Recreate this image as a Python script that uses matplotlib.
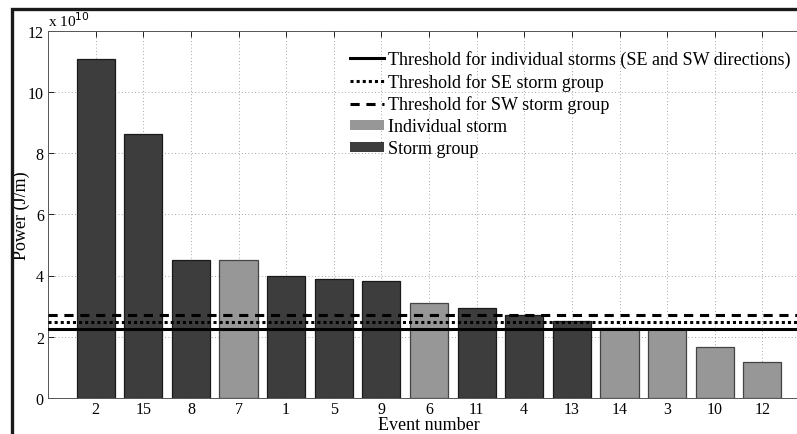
import matplotlib.pyplot as plt
import matplotlib.ticker as mticker
from matplotlib.patches import Rectangle
from matplotlib.lines import Line2D

plt.rcParams['font.family'] = ['Liberation Serif', 'DejaVu Serif']
plt.rcParams['font.size'] = 13

# event order as plotted, power in J/m
events = ['2', '15', '8', '7', '1', '5', '9', '6', '11', '4', '13', '14', '3', '10', '12']
power = [11.07e10, 8.61e10, 4.50e10, 4.50e10, 3.99e10, 3.90e10, 3.81e10, 3.09e10,
         2.94e10, 2.70e10, 2.52e10, 2.27e10, 2.26e10, 1.67e10, 1.17e10]
kind = ['group', 'group', 'group', 'single', 'group', 'group', 'group', 'single',
        'group', 'group', 'group', 'single', 'single', 'single', 'single']

thr_individual = 2.24e10
thr_se_group = 2.49e10
thr_sw_group = 2.70e10

dark = '#3d3d3d'
light = '#979797'

fig = plt.figure(figsize=(7.97, 4.35), dpi=100)
ax = fig.add_axes([48/797, 36/435, 762/797, 367.5/435])

x = list(range(1, len(events) + 1))
cols = [dark if k == 'group' else light for k in kind]
edges = ['#1a1a1a' if k == 'group' else '#444444' for k in kind]
ax.bar(x, power, width=0.8, color=cols, edgecolor=edges, linewidth=0.9, zorder=2)

ax.axhline(thr_individual, color='black', lw=2.2, ls='-', zorder=3)
ax.axhline(thr_se_group, color='black', lw=2.2, ls=(0, (1, 1)), zorder=3)
ax.axhline(thr_sw_group, color='black', lw=2.2, ls=(0, (3, 2.2)), zorder=3)

ax.set_xlim(0, 16)
ax.set_ylim(0, 12e10)
ax.set_xticks(x)
ax.set_xticklabels(events)
ax.set_yticks([i * 2e10 for i in range(7)])
ax.yaxis.set_major_formatter(mticker.FuncFormatter(lambda v, p: '%d' % round(v / 1e10)))
ax.tick_params(direction='in', length=4, width=0.6, top=True, right=True, labelsize=11.5)
ax.tick_params(axis='x', pad=2.5)
ax.tick_params(axis='y', pad=3)
ax.grid(True, ls=(0, (1, 3)), color='#888888', lw=0.6, zorder=0)
for s in ax.spines.values():
    s.set_linewidth(0.7)
    s.set_color('#555555')

ax.text(0, 1.004, r'x 10$^{10}$', transform=ax.transAxes, ha='left', va='bottom',
        fontsize=11)
ax.set_xlabel('Event number', labelpad=-1.2)
ax.set_ylabel('Power (J/m)', labelpad=-1.5)

handles = [
    Line2D([], [], color='black', lw=2.2, ls='-'),
    Line2D([], [], color='black', lw=2.2, ls=(0, (1, 1))),
    Line2D([], [], color='black', lw=2.2, ls=(0, (3, 2.2))),
    Rectangle((0, 0), 1, 1, facecolor=light, edgecolor='none'),
    Rectangle((0, 0), 1, 1, facecolor=dark, edgecolor='none'),
]
labels = ['Threshold for individual storms (SE and SW directions)',
          'Threshold for SE storm group', 'Threshold for SW storm group',
          'Individual storm', 'Storm group']
ax.legend(handles, labels, loc='upper left', bbox_to_anchor=(350/797, 1 - 51/435),
          bbox_transform=fig.transFigure, frameon=False, handlelength=1.9,
          handleheight=0.45, handletextpad=0.2, labelspacing=0.27, borderaxespad=0,
          borderpad=0)

# cropped outer frame of the original figure
fig.add_artist(Rectangle((12/797, -0.2), 1.5, 1.2 - 10/435,
                         transform=fig.transFigure, fill=False, lw=2.4,
                         edgecolor='#1a1a1a'))

fig.savefig('out.png', dpi=100)
